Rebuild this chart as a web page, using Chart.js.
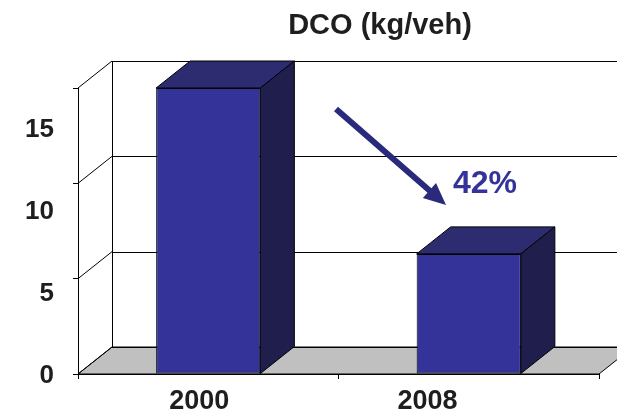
<!DOCTYPE html>
<html>
<head>
<meta charset="utf-8">
<script src="https://cdn.jsdelivr.net/npm/chart.js@4.4.1/dist/chart.umd.min.js"></script>
<style>
  html, body { margin: 0; padding: 0; background: #fff; }
  canvas { display: block; }
</style>
</head>
<body>
<canvas id="chart" width="617" height="409"></canvas>
<script>
// Data
const YEARS = ['2000', '2008'];
const DCO = [15, 6.3];
const Y_TICKS = [0, 5, 10, 15];
const TITLE = 'DCO (kg/veh)';

// Look
const FONT = "'Liberation Sans', Arial, sans-serif";
const INK = '#000000';
const TEXT = '#1e1e1e';
const FRONT = '#333399';
const TOP = '#2d2c70';
const SIDE = '#1f1e4d';
const FLOOR = '#c0c0c0';
const ARROW = '#2a2a7c';
const DEPTH = { dx: 34, dy: -27 };

// Ranges of the label-only axes (labels sit a little off the front axis)
const YEAR_LABEL_RANGE = { min: -0.531, max: 1.751 };
const VALUE_LABEL_RANGE = { min: 0.12, max: 17.57 };

const crisp = v => Math.round(v) + 0.5;

function line(ctx, x1, y1, x2, y2) {
  ctx.beginPath();
  ctx.moveTo(x1, y1);
  ctx.lineTo(x2, y2);
  ctx.stroke();
}

// Walls, floor and back-wall gridlines of the 3D box
const box3d = {
  id: 'box3d',
  beforeDraw(chart) {
    const { ctx, chartArea: a, scales: { y } } = chart;
    const { dx, dy } = DEPTH;
    const W = chart.width;
    ctx.save();
    ctx.lineWidth = 1;
    ctx.strokeStyle = INK;

    // floor
    ctx.fillStyle = FLOOR;
    ctx.beginPath();
    ctx.moveTo(a.left, a.bottom);
    ctx.lineTo(a.left + dx, a.bottom + dy);
    ctx.lineTo(a.right + dx, a.bottom + dy);
    ctx.lineTo(a.right, a.bottom);
    ctx.closePath();
    ctx.fill();
    ctx.stroke();

    // gridlines: back wall horizontals and left wall diagonals
    Y_TICKS.forEach(v => {
      const py = y.getPixelForValue(v);
      line(ctx, a.left + dx, crisp(py + dy), W, crisp(py + dy));
      line(ctx, a.left, py, a.left + dx, py + dy);
    });

    // back wall left edge
    line(ctx, crisp(a.left + dx), y.getPixelForValue(y.max) + dy, crisp(a.left + dx), a.bottom + dy);
    ctx.restore();
  },
  afterDatasetsDraw(chart) {
    const { ctx } = chart;
    const { dx, dy } = DEPTH;
    const meta = chart.getDatasetMeta(0);
    ctx.save();
    ctx.lineWidth = 1;
    ctx.strokeStyle = INK;
    ctx.lineJoin = 'miter';
    meta.data.forEach(bar => {
      const { x, y, width, base } = bar.getProps(['x', 'y', 'width', 'base'], true);
      const x1 = x - width / 2, x2 = x + width / 2;
      // top face
      ctx.fillStyle = TOP;
      ctx.beginPath();
      ctx.moveTo(x1, y);
      ctx.lineTo(x1 + dx, y + dy);
      ctx.lineTo(x2 + dx, y + dy);
      ctx.lineTo(x2, y);
      ctx.closePath();
      ctx.fill();
      ctx.stroke();
      // side face
      ctx.fillStyle = SIDE;
      ctx.beginPath();
      ctx.moveTo(x2, y);
      ctx.lineTo(x2 + dx, y + dy);
      ctx.lineTo(x2 + dx, base + dy);
      ctx.lineTo(x2, base);
      ctx.closePath();
      ctx.fill();
      ctx.stroke();
    });
    ctx.restore();
  }
};

// Title, reduction arrow and percentage note
const notes = {
  id: 'notes',
  afterDraw(chart) {
    const { ctx } = chart;
    ctx.save();

    ctx.fillStyle = TEXT;
    ctx.font = `bold 29px ${FONT}`;
    ctx.textAlign = 'center';
    ctx.textBaseline = 'alphabetic';
    ctx.fillText(TITLE, 380, 34);

    // arrow
    const sx = 336, sy = 109, tx = 446, ty = 205;
    const ang = Math.atan2(ty - sy, tx - sx);
    const headLen = 22, headHalf = 10;
    const bx = tx - headLen * Math.cos(ang), by = ty - headLen * Math.sin(ang);
    ctx.strokeStyle = ARROW;
    ctx.fillStyle = ARROW;
    ctx.lineWidth = 6;
    ctx.lineCap = 'butt';
    line(ctx, sx, sy, bx + 2 * Math.cos(ang), by + 2 * Math.sin(ang));
    ctx.beginPath();
    ctx.moveTo(tx, ty);
    ctx.lineTo(bx + headHalf * Math.sin(ang), by - headHalf * Math.cos(ang));
    ctx.lineTo(bx - headHalf * Math.sin(ang), by + headHalf * Math.cos(ang));
    ctx.closePath();
    ctx.fill();

    // share of the 2008 value relative to 2000
    const pct = Math.round(DCO[1] / DCO[0] * 100) + '%';
    ctx.fillStyle = FRONT;
    ctx.font = `bold 32px ${FONT}`;
    ctx.textAlign = 'left';
    ctx.fillText(pct, 453, 193);
    ctx.restore();
  }
};

const yearTicks = s => {
  s.min = YEAR_LABEL_RANGE.min;
  s.max = YEAR_LABEL_RANGE.max;
  s.ticks = YEARS.map((_, i) => ({ value: i }));
};
const valueLabelTicks = s => {
  s.min = VALUE_LABEL_RANGE.min;
  s.max = VALUE_LABEL_RANGE.max;
  s.ticks = Y_TICKS.map(v => ({ value: v }));
};
const valueTicks = s => { s.ticks = Y_TICKS.map(v => ({ value: v })); };

new Chart(document.getElementById('chart'), {
  type: 'bar',
  data: {
    labels: YEARS,
    datasets: [{
      data: DCO,
      backgroundColor: FRONT,
      borderColor: INK,
      borderWidth: 1,
      borderSkipped: false,
      barPercentage: 0.4,
      categoryPercentage: 1
    }]
  },
  options: {
    responsive: false,
    animation: false,
    devicePixelRatio: 1,
    layout: { padding: { top: 88, left: 0, right: 18, bottom: 0 } },
    plugins: {
      legend: { display: false },
      title: { display: false },
      tooltip: { enabled: false }
    },
    scales: {
      x: {
        type: 'category',
        position: 'bottom',
        weight: 0,
        offset: true,
        grid: { offset: true, drawOnChartArea: false, drawTicks: true, tickLength: 5, color: INK },
        border: { display: true, color: INK, width: 1 },
        ticks: { display: false },
        afterFit: s => { s.height = 5; }
      },
      xl: {
        type: 'linear',
        position: 'bottom',
        weight: 1,
        offset: false,
        bounds: 'data',
        min: YEAR_LABEL_RANGE.min,
        max: YEAR_LABEL_RANGE.max,
        afterBuildTicks: yearTicks,
        grid: { display: false, offset: false },
        border: { display: false },
        ticks: {
          callback: v => YEARS[v],
          font: { family: FONT, size: 27, weight: 'bold' },
          color: TEXT,
          padding: -2,
          maxRotation: 0,
          autoSkip: false
        },
        afterFit: s => { s.height = 30; }
      },
      y: {
        type: 'linear',
        position: 'left',
        weight: 0,
        min: 0,
        max: 15,
        afterBuildTicks: valueTicks,
        ticks: { display: false },
        grid: { drawOnChartArea: false, drawTicks: true, tickLength: 5, color: INK },
        border: { display: true, color: INK, width: 1 },
        afterFit: s => { s.width = 5; }
      },
      yl: {
        type: 'linear',
        position: 'left',
        weight: 1,
        offset: false,
        bounds: 'data',
        min: VALUE_LABEL_RANGE.min,
        max: VALUE_LABEL_RANGE.max,
        afterBuildTicks: valueLabelTicks,
        grid: { display: false },
        border: { display: false },
        ticks: {
          font: { family: FONT, size: 26, weight: 'bold' },
          color: TEXT,
          padding: 11
        },
        afterFit: s => { s.width = 73; }
      }
    }
  },
  plugins: [box3d, notes]
});
</script>
</body>
</html>
